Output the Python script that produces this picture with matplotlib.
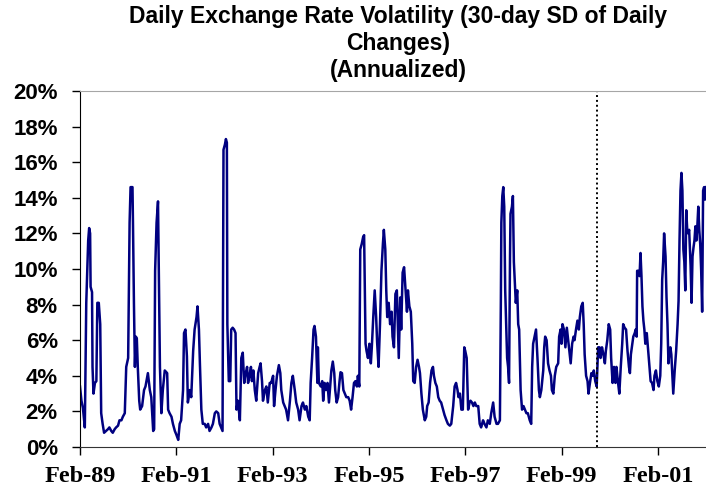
import matplotlib.pyplot as plt
import numpy as np

# time axis: years elapsed since Feb-1989
START_YEAR = 1989 + 1 / 12

t_offset = [
    0.00, 0.03, 0.06, 0.10, 0.13, 0.17, 0.19, 0.21, 0.22, 0.25, 0.26, 0.28, 0.31, 0.34, 0.36, 0.39,
    0.42, 0.44, 0.47, 0.50, 0.54, 0.58, 0.61, 0.65, 0.68, 0.72, 0.75, 0.79, 0.82, 0.86, 0.89, 0.93,
    0.96, 1.00, 1.03, 1.05, 1.09, 1.10, 1.12, 1.14, 1.16, 1.18, 1.20, 1.23, 1.25, 1.29, 1.33, 1.36,
    1.41, 1.45, 1.48, 1.52, 1.54, 1.56, 1.59, 1.62,
    1.64, 1.66, 1.69, 1.72, 1.76, 1.81, 1.83, 1.86, 1.90, 1.93, 1.97, 2.00, 2.04, 2.07, 2.10, 2.14,
    2.16, 2.19, 2.22, 2.24, 2.28, 2.31, 2.35, 2.38, 2.42, 2.44, 2.47, 2.49, 2.52, 2.55, 2.59, 2.62,
    2.66, 2.69, 2.73, 2.76, 2.80, 2.83, 2.87, 2.90, 2.93, 2.96, 2.98, 3.01, 3.03, 3.05, 3.06, 3.09,
    3.12, 3.14, 3.17, 3.20, 3.23, 3.25, 3.28,
    3.32, 3.35, 3.38, 3.41, 3.43, 3.47, 3.49, 3.52, 3.55, 3.57, 3.60, 3.63, 3.66, 3.70, 3.73, 3.75,
    3.78, 3.80, 3.84, 3.87, 3.90, 3.94, 3.97, 4.01, 4.03, 4.06, 4.09, 4.13, 4.16, 4.18, 4.22, 4.25,
    4.28, 4.32, 4.36, 4.39, 4.42, 4.46, 4.49, 4.53, 4.56, 4.60, 4.63, 4.67, 4.70, 4.74, 4.77, 4.79,
    4.82, 4.85, 4.87, 4.90, 4.93,
    4.94, 4.96, 5.00, 5.03, 5.05, 5.08, 5.11, 5.14, 5.17, 5.19, 5.22, 5.25, 5.28, 5.30, 5.33, 5.36,
    5.39, 5.41, 5.44, 5.47, 5.50, 5.53, 5.57, 5.60, 5.63, 5.66, 5.69, 5.72, 5.75, 5.77, 5.80, 5.82,
    5.85, 5.88, 5.90, 5.93, 5.95, 5.98, 6.01, 6.04, 6.06, 6.09, 6.12, 6.15, 6.17, 6.20, 6.23, 6.26,
    6.29, 6.31, 6.34, 6.36, 6.38, 6.41, 6.44, 6.47, 6.49, 6.52, 6.55, 6.58,
    6.62, 6.65, 6.67, 6.70, 6.73, 6.76, 6.79, 6.81, 6.84, 6.87, 6.90, 6.92, 6.95, 6.98, 7.01, 7.04,
    7.06, 7.09, 7.12, 7.16, 7.19, 7.21, 7.24, 7.27, 7.30, 7.33, 7.35, 7.38, 7.41, 7.44, 7.47, 7.50,
    7.54, 7.57, 7.61, 7.64, 7.68, 7.71, 7.75, 7.78, 7.81, 7.84, 7.86, 7.89, 7.92, 7.95, 7.98, 8.00,
    8.03, 8.06, 8.09, 8.11, 8.14, 8.17, 8.20, 8.23, 8.27,
    8.30, 8.33, 8.37, 8.40, 8.44, 8.47, 8.51, 8.54, 8.58, 8.61, 8.65, 8.68, 8.72, 8.74, 8.75, 8.77,
    8.79, 8.81, 8.83, 8.85, 8.87, 8.89, 8.91, 8.93, 8.94, 8.97, 8.99, 9.01, 9.03, 9.05, 9.08, 9.10,
    9.12, 9.15, 9.18, 9.21, 9.24, 9.27, 9.30, 9.34, 9.37, 9.39, 9.41, 9.44, 9.47, 9.50, 9.53, 9.55,
    9.58, 9.62, 9.64, 9.66, 9.69, 9.72, 9.75, 9.78, 9.80, 9.83, 9.86, 9.89, 9.93,
    9.95, 9.98, 10.00, 10.02, 10.05, 10.08, 10.11, 10.13, 10.16, 10.19, 10.22, 10.25, 10.27, 10.30,
    10.33, 10.36, 10.38, 10.41, 10.44, 10.46, 10.48, 10.51, 10.54, 10.56, 10.59, 10.62, 10.65, 10.67,
    10.70, 10.73, 10.76, 10.79, 10.81, 10.84, 10.87, 10.90, 10.92, 10.95, 10.98, 11.01, 11.03, 11.06,
    11.09, 11.12, 11.14, 11.17, 11.20, 11.23, 11.26, 11.28, 11.31, 11.34, 11.37, 11.40, 11.42,
    11.44, 11.46, 11.49, 11.52, 11.54, 11.56, 11.57, 11.59, 11.62, 11.64, 11.66, 11.68, 11.70, 11.72,
    11.74, 11.77, 11.80, 11.82, 11.85, 11.88, 11.91, 11.93, 11.96, 11.99, 12.02, 12.05, 12.07, 12.09,
    12.11, 12.13, 12.16, 12.18, 12.20, 12.22, 12.24, 12.26, 12.28, 12.30, 12.32, 12.35, 12.38, 12.41,
    12.43, 12.45, 12.47, 12.49, 12.51, 12.53, 12.55, 12.57, 12.59, 12.61, 12.63, 12.65, 12.68, 12.70,
    12.72, 12.74, 12.76, 12.78, 12.80, 12.82, 12.84, 12.86, 12.88, 12.90, 12.92, 12.94, 12.96, 12.98,
    13.00,
]

vol_pct = [
    3.4, 2.6, 2.2, 1.1, 8.1, 11.6, 12.3, 12.0, 9.0, 8.7, 4.5, 3.0, 3.6, 3.7, 8.1, 8.1,
    6.9, 1.9, 1.3, 0.8, 0.9, 1.0, 1.1, 0.9, 0.8, 1.0, 1.1, 1.2, 1.5, 1.5, 1.7, 1.9,
    4.5, 5.0, 12.6, 14.6, 14.6, 12.6, 8.1, 4.5, 6.2, 6.1, 4.5, 2.6, 2.1, 2.3, 3.2, 3.4,
    4.15, 3.2, 2.8, 0.9, 1.0, 9.9, 12.6, 13.8,
    9.4, 4.5, 1.9, 3.2, 4.3, 4.15, 2.1, 1.9, 1.7, 1.3, 0.9, 0.7, 0.4, 1.3, 1.5, 3.2,
    6.4, 6.6, 5.1, 2.5, 3.2, 2.8, 5.4, 6.6, 7.3, 7.9, 6.6, 4.7, 2.1, 1.3, 1.3, 1.1,
    1.3, 0.9, 1.1, 1.3, 1.9, 2.0, 1.9, 1.3, 1.1, 0.9, 16.7, 17.0, 17.3, 17.1, 6.9, 3.7,
    3.7, 6.6, 6.7, 6.6, 6.4, 2.1, 2.6,
    1.5, 5.0, 5.3, 3.6, 4.0, 4.5, 3.6, 4.0, 4.5, 3.7, 4.3, 3.2, 2.6, 4.15, 4.5, 4.7,
    3.7, 2.6, 3.2, 3.4, 2.5, 3.6, 3.6, 4.0, 2.3, 3.2, 4.0, 4.6, 4.15, 3.2, 2.5, 2.3,
    2.1, 1.5, 2.6, 3.6, 4.0, 3.2, 2.5, 2.1, 1.5, 2.3, 2.5, 2.1, 2.3, 1.7, 1.5, 3.6,
    5.0, 6.6, 6.8, 6.2, 3.6,
    5.6, 3.6, 3.4, 3.7, 2.6, 3.6, 3.2, 3.6, 2.5, 3.2, 4.3, 4.8, 4.15, 3.2, 2.5, 2.8,
    3.7, 4.2, 4.15, 3.2, 3.0, 2.8, 2.8, 2.6, 2.1, 2.8, 3.6, 3.7, 3.4, 4.0, 3.4, 11.1,
    11.4, 11.8, 11.9, 5.8, 5.4, 5.0, 5.8, 4.7, 5.6, 7.3, 8.8, 7.3, 5.9, 4.5, 6.9, 9.9,
    11.4, 12.2, 11.1, 8.8, 7.3, 8.1, 6.9, 7.6, 6.2, 5.6, 8.6, 8.8,
    5.0, 8.4, 6.6, 9.8, 10.1, 8.8, 7.6, 8.8, 7.9, 7.6, 5.8, 3.7, 3.6, 4.5, 4.9, 4.5,
    4.15, 3.0, 2.1, 1.5, 1.7, 2.3, 2.5, 3.6, 4.3, 4.5, 4.0, 3.6, 3.4, 2.8, 2.6, 2.5,
    2.1, 1.8, 1.5, 1.3, 1.2, 1.3, 2.3, 3.4, 3.6, 3.2, 2.8, 3.0, 2.1, 2.1, 5.6, 5.4,
    5.0, 2.1, 2.5, 2.6, 2.5, 2.3, 2.5, 2.3, 2.3,
    1.3, 1.1, 1.5, 1.3, 1.1, 1.5, 1.3, 1.9, 2.5, 1.7, 1.3, 1.3, 1.5, 8.3, 12.6, 14.1,
    14.6, 13.5, 8.8, 6.9, 5.0, 4.5, 3.6, 10.7, 13.1, 13.5, 14.1, 10.4, 9.3, 8.1, 8.8, 6.9,
    6.6, 3.2, 2.1, 2.3, 2.1, 1.9, 1.9, 1.5, 1.3, 4.5, 5.8, 6.2, 6.6, 5.0, 3.2, 2.8,
    3.2, 4.3, 5.6, 6.2, 6.0, 4.7, 4.3, 4.0, 3.2, 3.0, 4.0, 4.5, 4.7,
    6.2, 6.6, 5.8, 6.9, 6.6, 5.6, 6.7, 6.2, 5.4, 4.7, 5.8, 6.2, 6.0, 6.6,
    7.1, 6.6, 7.3, 7.9, 8.1, 6.9, 5.2, 4.0, 3.7, 3.0, 3.6, 4.15, 4.0, 4.3,
    3.7, 3.4, 5.6, 5.6, 5.0, 5.6, 5.2, 4.7, 5.4, 6.0, 6.9, 6.6, 5.0, 3.6,
    4.5, 3.6, 4.5, 3.7, 3.0, 4.5, 5.8, 6.9, 6.7, 6.6, 5.4, 4.5, 4.15,
    5.2, 5.6, 6.2, 6.4, 6.6, 6.2, 9.9, 9.9, 9.6, 10.9, 9.6, 7.9, 7.1, 6.6,
    5.8, 6.4, 5.4, 4.7, 3.7, 3.6, 3.2, 4.0, 4.3, 3.7, 3.4, 4.0, 5.8, 9.4,
    10.4, 12.0, 10.7, 8.4, 6.9, 4.7, 5.4, 5.6, 5.2, 4.15, 3.0, 4.3, 5.4, 6.9,
    8.2, 11.6, 14.4, 15.4, 14.4, 11.1, 10.4, 8.8, 13.3, 12.2, 12.0, 12.2, 10.2, 8.1,
    10.7, 11.2, 11.6, 12.4, 11.6, 12.4, 13.5, 12.2, 11.4, 9.9, 7.6, 14.4, 14.6, 13.9,
    14.6,
]

tick_offsets = [0, 2, 4, 6, 8, 10, 12]
tick_labels = ['Feb-89', 'Feb-91', 'Feb-93', 'Feb-95', 'Feb-97', 'Feb-99', 'Feb-01']
y_ticks = [0, 2, 4, 6, 8, 10, 12, 14, 16, 18, 20]
event_offset = 10.74  # dotted marker, late 1999


def main():
    dates = START_YEAR + np.array(t_offset)

    fig = plt.figure(figsize=(7.06, 4.95), dpi=100)
    ax = fig.add_axes([80 / 706, 48 / 495, 626 / 706, 356 / 495])

    ax.plot(dates, vol_pct, color='#000080', lw=1.8, solid_joinstyle='round')
    ax.axvline(START_YEAR + event_offset, color='black', ls=(0, (1, 1.5)), lw=1.4)

    ax.set_xlim(START_YEAR, START_YEAR + 13.0)
    ax.set_ylim(0, 20)

    ax.set_xticks([START_YEAR + t for t in tick_offsets])
    ax.set_xticklabels(tick_labels, fontfamily='Liberation Serif',
                       fontweight='bold', fontsize=17.5)
    ax.set_yticks(y_ticks)
    ax.set_yticklabels([f'{v}%' for v in y_ticks], fontfamily='Liberation Sans',
                       fontweight='bold', fontsize=16)
    ax.tick_params(axis='x', direction='out', length=6, width=1, pad=8)
    ax.tick_params(axis='y', direction='out', length=6, width=1, pad=10)

    ax.spines['right'].set_visible(False)
    ax.spines['top'].set_color('#a6a6a6')
    ax.spines['left'].set_color('black')
    ax.spines['bottom'].set_color('#333333')

    title_lines = ['Daily Exchange Rate Volatility (30-day SD of Daily',
                   'Changes)', '(Annualized)']
    for i, line in enumerate(title_lines):
        fig.text(398 / 706, 1 - (17 + 26.5 * i) / 495, line, ha='center', va='center',
                 fontfamily='Liberation Sans', fontweight='bold', fontsize=16.5)

    fig.savefig('out.png', dpi=100)


if __name__ == "__main__":
    main()
